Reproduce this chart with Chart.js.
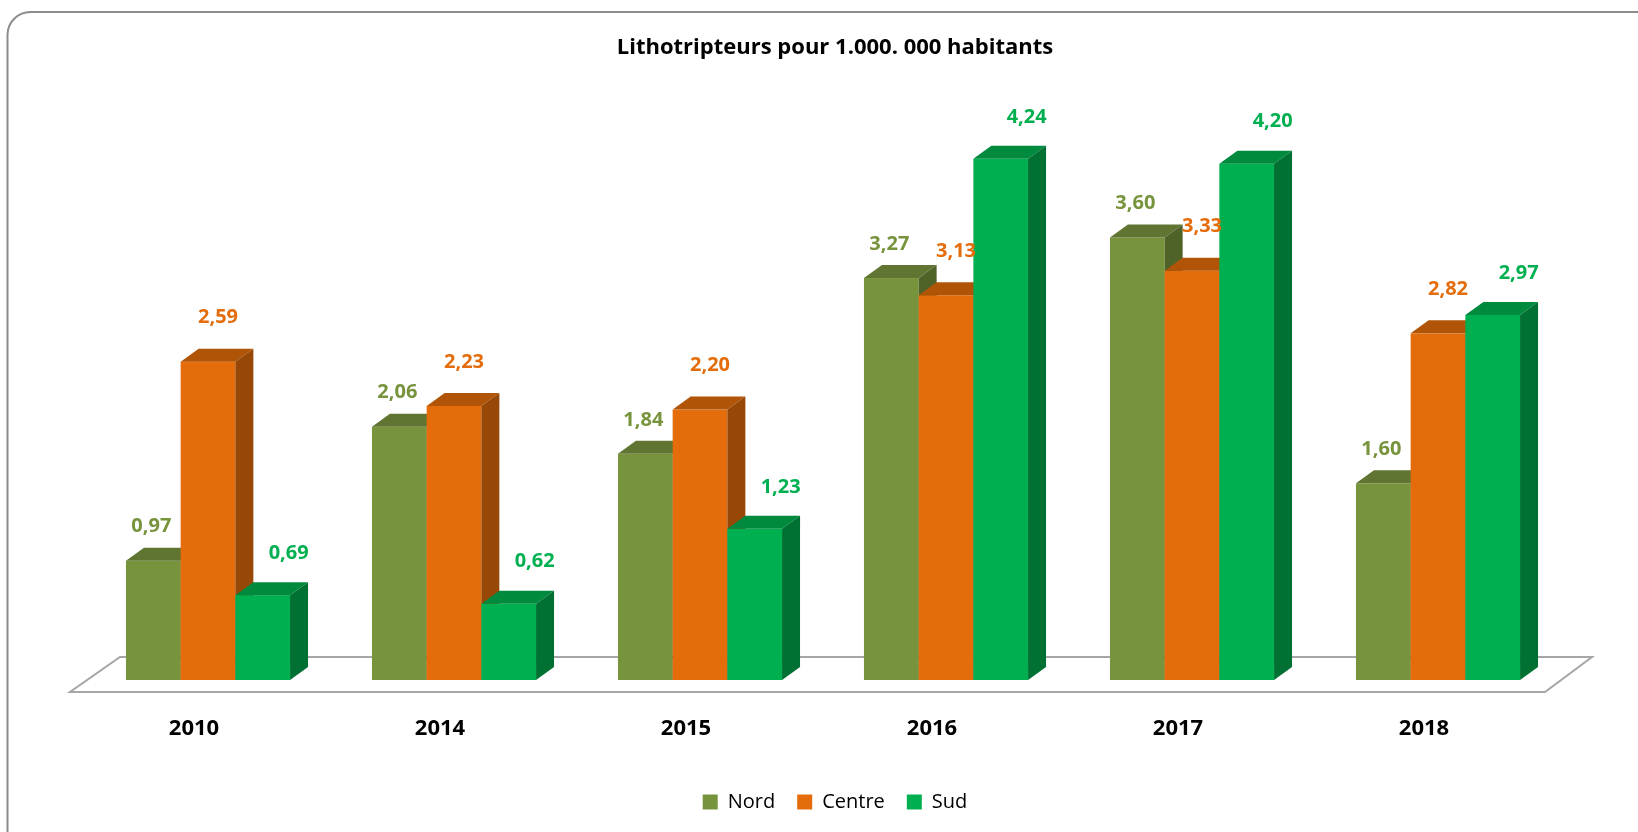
<!DOCTYPE html>
<html>
<head>
<meta charset="utf-8">
<script src="https://cdn.jsdelivr.net/npm/chart.js@4.4.1/dist/chart.umd.min.js"></script>
<style>
  html, body { margin: 0; padding: 0; background: #fff; }
  canvas { display: block; }
</style>
</head>
<body>
<canvas id="litho" width="1638" height="832"></canvas>
<script>
const annees = ['2010', '2014', '2015', '2016', '2017', '2018'];
const nord = [0.97, 2.06, 1.84, 3.27, 3.60, 1.60];
const centre = [2.59, 2.23, 2.20, 3.13, 3.33, 2.82];
const sud = [0.69, 0.62, 1.23, 4.24, 4.20, 2.97];

// couleurs face avant / dessus / cote
const teintes = [
    { face: '#77933C', dessus: '#5F7531', cote: '#4F6228' },
    { face: '#E46C0A', dessus: '#B05407', cote: '#974706' },
    { face: '#00B050', dessus: '#008A3E', cote: '#007132' }
];
// decalage des etiquettes par serie (x, y au-dessus du haut de la barre)
const decalEtiq = [[-2, 34], [10, 44], [26, 42]];
const PROF_X = 18, PROF_Y = 13;

function formatVal(v) {
    return v.toFixed(2).replace('.', ',');
}

const cadre = {
    id: 'cadre',
    beforeDraw(chart) {
        const ctx = chart.ctx;
        ctx.save();
        ctx.fillStyle = '#fff';
        ctx.fillRect(0, 0, chart.width, chart.height);
        ctx.beginPath();
        ctx.roundRect(7.5, 12, chart.width + 40, chart.height + 40, 23);
        ctx.strokeStyle = '#8c8c8c';
        ctx.lineWidth = 2;
        ctx.stroke();
        ctx.restore();
    }
};

function dessineBarre(ctx, bar, t) {
    const g = bar.x - bar.width / 2, d = bar.x + bar.width / 2;
    const y = bar.y, b = bar.base;
    ctx.fillStyle = t.face;
    ctx.fillRect(g, y, d - g, b - y);
    ctx.beginPath();
    ctx.moveTo(g, y);
    ctx.lineTo(g + PROF_X, y - PROF_Y);
    ctx.lineTo(d + PROF_X, y - PROF_Y);
    ctx.lineTo(d, y);
    ctx.closePath();
    ctx.fillStyle = t.dessus;
    ctx.fill();
    ctx.beginPath();
    ctx.moveTo(d, y);
    ctx.lineTo(d + PROF_X, y - PROF_Y);
    ctx.lineTo(d + PROF_X, b - PROF_Y);
    ctx.lineTo(d, b);
    ctx.closePath();
    ctx.fillStyle = t.cote;
    ctx.fill();
}

const barres3d = {
    id: 'barres3d',
    beforeDatasetsDraw(chart) {
        const ctx = chart.ctx;
        const a = chart.chartArea;
        ctx.save();
        // plancher
        ctx.beginPath();
        ctx.moveTo(a.left - 15, a.bottom + 12);
        ctx.lineTo(a.right - 16, a.bottom + 12);
        ctx.lineTo(a.right + 31, a.bottom - 23);
        ctx.lineTo(a.left + 35, a.bottom - 23);
        ctx.closePath();
        ctx.fillStyle = '#fff';
        ctx.fill();
        ctx.strokeStyle = '#a6a6a6';
        ctx.lineWidth = 2;
        ctx.stroke();

        const metas = chart.data.datasets.map((ds, i) => chart.getDatasetMeta(i));
        for (let c = 0; c < annees.length; c++) {
            metas.forEach((m, i) => dessineBarre(ctx, m.data[c], teintes[i]));
        }
        // etiquettes
        ctx.font = 'bold 20px "Open Sans"';
        ctx.textAlign = 'center';
        ctx.textBaseline = 'middle';
        metas.forEach((m, i) => {
            const vals = chart.data.datasets[i].data;
            m.data.forEach((bar, c) => {
                ctx.fillStyle = teintes[i].face;
                ctx.fillText(formatVal(vals[c]), bar.x + decalEtiq[i][0], bar.y - decalEtiq[i][1]);
            });
        });
        ctx.restore();
        return false;
    }
};

new Chart(document.getElementById('litho'), {
    type: 'bar',
    data: {
        labels: annees,
        datasets: [
            { label: 'Nord', data: nord, backgroundColor: teintes[0].face },
            { label: 'Centre', data: centre, backgroundColor: teintes[1].face },
            { label: 'Sud', data: sud, backgroundColor: teintes[2].face }
        ]
    },
    options: {
        responsive: false,
        animation: false,
        datasets: { bar: { barPercentage: 1, categoryPercentage: 0.667 } },
        layout: { padding: { left: 32, right: 0, top: 14, bottom: 10 } },
        plugins: {
            title: {
                display: true,
                text: 'Lithotripteurs pour 1.000. 000 habitants',
                color: '#000',
                font: { family: '"Open Sans"', size: 22, weight: 'bold' },
                padding: { top: 21, bottom: 4 }
            },
            legend: {
                position: 'bottom',
                labels: {
                    boxWidth: 15,
                    boxHeight: 15,
                    padding: 22,
                    color: '#000',
                    font: { family: '"Open Sans"', size: 20 }
                }
            },
            tooltip: { enabled: false }
        },
        scales: {
            x: {
                grid: { display: false },
                border: { display: false },
                ticks: {
                    color: '#000',
                    padding: 28,
                    labelOffset: -14,
                    font: { family: '"Open Sans"', size: 22, weight: 'bold' }
                },
                afterFit(s) { s.height = 90; }
            },
            y: {
                min: 0,
                max: 5,
                position: 'left',
                grid: { display: false },
                border: { display: false },
                ticks: { display: false },
                afterFit(s) { s.width = 53; }
            },
            yR: {
                type: 'linear',
                position: 'right',
                grid: { display: false },
                border: { display: false },
                ticks: { display: false },
                afterFit(s) { s.width = 77; }
            }
        }
    },
    plugins: [cadre, barres3d]
});
</script>
</body>
</html>
